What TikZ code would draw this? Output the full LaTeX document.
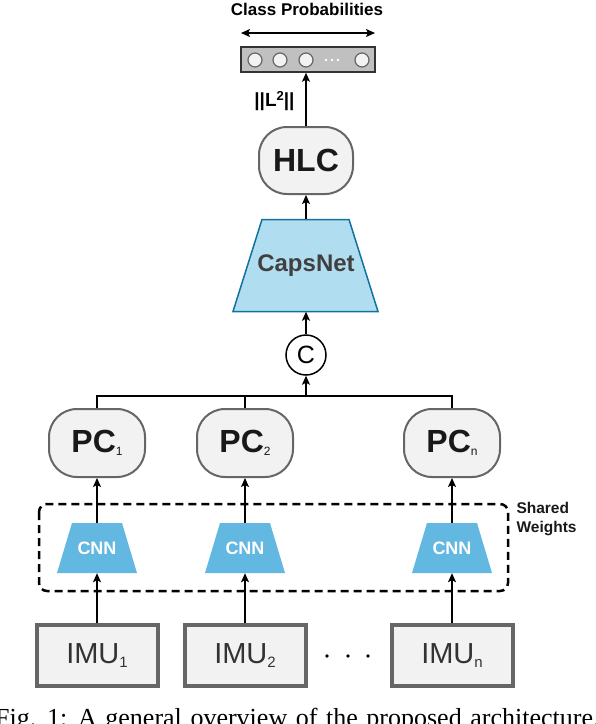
\documentclass[tikz,border=0pt]{standalone}
\usepackage{fontspec}
\setmainfont{Liberation Sans}
\newfontfamily\capfont{Liberation Serif}
\usetikzlibrary{arrows.meta}
\definecolor{boxfill}{HTML}{F2F2F2}
\definecolor{boxline}{HTML}{666666}
\definecolor{capsfill}{HTML}{B1DDF0}
\definecolor{capsline}{HTML}{10739E}
\definecolor{cnnfill}{HTML}{62B8E1}
\definecolor{vecfill}{HTML}{C0C0C0}
\tikzset{
  arr/.style={-{Stealth[length=9pt,width=8pt,inset=2pt]},line width=1.3pt},
  pcbox/.style={draw=boxline,fill=boxfill,line width=2pt,rounded corners=28pt,
    minimum width=96pt,minimum height=68pt,inner sep=0pt,text=black!90,
    font=\fontsize{32}{36}\selectfont\bfseries},
  imubox/.style={draw=boxline,fill=boxfill,line width=4pt,minimum width=121pt,
    minimum height=61pt,inner sep=0pt,text=black!80,font=\fontsize{29}{32}\selectfont},
  cnntext/.style={minimum width=81pt,minimum height=50pt,inner sep=0pt,text=white,
    font=\fontsize{18}{20}\selectfont\bfseries},
  cell/.style={circle,draw=boxline,fill=boxfill,line width=1.2pt,minimum size=14pt,inner sep=0pt}
}
\newcommand{\pcsub}[1]{\raisebox{-3pt}{\fontsize{12}{12}\selectfont\mdseries #1}}
\newcommand{\imusub}[1]{\raisebox{-4pt}{\fontsize{15}{15}\selectfont #1}}
\begin{document}
\begin{tikzpicture}[x=1pt,y=-1pt]
\useasboundingbox (0,0) rectangle (596,724);

% output vector
\node[font=\fontsize{17}{20}\selectfont\bfseries] (title) at (307,9) {Class Probabilities};
\coordinate (pl) at (241,33);
\coordinate (pr) at (375,33);
\draw[{Stealth[length=9pt,width=8pt,inset=2pt]}-{Stealth[length=9pt,width=8pt,inset=2pt]},line width=1.3pt] (pl)--(pr);
\node[draw=black!80,fill=vecfill,line width=1.5pt,minimum width=134pt,minimum height=25pt,inner sep=0pt] (vec) at (308,59.5) {};
\foreach \x in {255,280,306,362}
  \node[cell] at (\x,60) {};
\foreach \x in {326,332,338}
  \fill[white] (\x,60) circle (1.4);
\node[font=\fontsize{19}{20}\selectfont\bfseries,anchor=east] (norm) at (298,101) {||L\raisebox{6pt}{\fontsize{13}{13}\selectfont 2}||};

% capsule part
\node[pcbox,minimum width=94pt,minimum height=67pt] (hlc) at (306,160.5) {HLC};
\draw[capsline,fill=capsfill,line width=1.5pt] (233,311.5) -- (262,219.5) -- (349,219.5) -- (378,311.5) -- cycle;
\node[minimum width=100pt,minimum height=92pt,inner sep=0pt,text=black!75,
  font=\fontsize{24}{26}\selectfont\bfseries] (caps) at (306,265.5) {CapsNet};
\node[circle,draw,line width=1.5pt,minimum size=40pt,inner sep=0pt,
  font=\fontsize{25}{26}\selectfont] (cat) at (306,355) {C};
\draw[arr] (hlc.north)--(hlc.north |- vec.south);
\draw[arr] (caps.north)--(hlc.south);
\draw[arr] (cat.north)--(caps.south);

% primary capsules
\node[pcbox] (pc1) at (97,443) {PC\pcsub{1}};
\node[pcbox] (pc2) at (245,443) {PC\pcsub{2}};
\node[pcbox] (pcn) at (452,443) {PC\pcsub{n}};
\coordinate (bus) at (306,396);
\draw[line width=1.3pt] (pc1.north) |- (pcn.north |- bus) -- (pcn.north);
\draw[line width=1.3pt] (pc2.north) -- (pc2.north |- bus);
\draw[arr] (bus)--(cat.south);

% shared cnn
\draw[dashed,dash pattern=on 8pt off 5pt,line width=2.5pt,rounded corners=8pt] (39,504) rectangle (508,591);
\node[anchor=west,align=left,font=\fontsize{15.5}{19}\selectfont\bfseries,text=black!90] (sw) at (513,519) {Shared\\Weights};
\foreach \x/\n in {97/1,245/2,452/n}{
  \fill[cnnfill] (\x-40,573) -- (\x-25,523) -- (\x+25,523) -- (\x+40,573) -- cycle;
  \node[cnntext] (cnn\n) at (\x,548) {CNN};
}
\draw[arr] (cnn1.north)--(pc1.south);
\draw[arr] (cnn2.north)--(pc2.south);
\draw[arr] (cnnn.north)--(pcn.south);

% sensors
\node[imubox] (imu1) at (97,655.5) {IMU\imusub{1}};
\node[imubox] (imu2) at (245,655.5) {IMU\imusub{2}};
\node[imubox] (imun) at (452,655.5) {IMU\imusub{n}};
\foreach \x in {327,348,368}
  \fill (\x,656) circle (1.8);
\draw[arr] (imu1.north)--(cnn1.south);
\draw[arr] (imu2.north)--(cnn2.south);
\draw[arr] (imun.north)--(cnnn.south);

\node[anchor=base west,inner sep=0pt,font=\capfont\fontsize{26}{30}\selectfont] (cap) at (-5,726)
  {\spaceskip=.33em\relax Fig. 1: A general overview of the proposed architecture.};
\end{tikzpicture}
\end{document}
